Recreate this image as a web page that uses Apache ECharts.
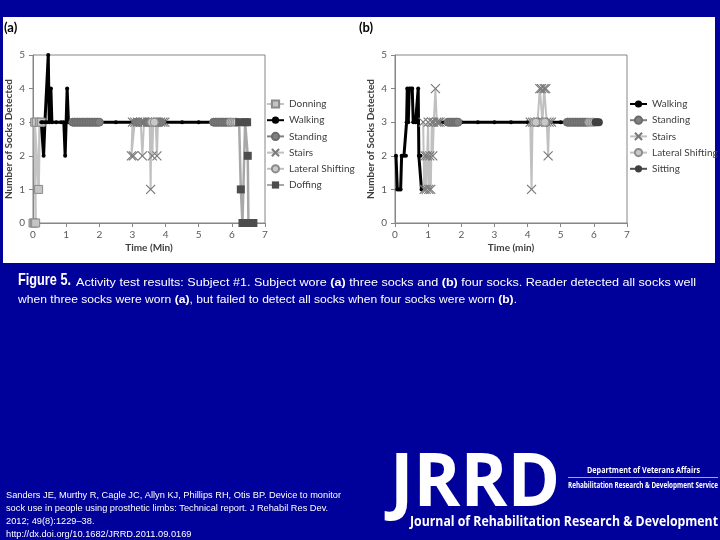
<!DOCTYPE html>
<html><head><meta charset="utf-8">
<script src="https://cdn.jsdelivr.net/npm/echarts@6/dist/echarts.min.js"></script>
<style>html,body{margin:0;padding:0;background:#00009a;}#c{width:720px;height:540px;}</style>
</head><body><div id="c"></div>
<script>
// ---- tick labels ----
const xTicks = [0, 1, 2, 3, 4, 5, 6, 7];
const yTicks = [0, 1, 2, 3, 4, 5];

// ---- panel (a): three socks ----
const legendA = ['Donning', 'Walking', 'Standing', 'Stairs', 'Lateral Shifting', 'Doffing'];
const donningA = [[0,0],[0.04,0],[0.08,0],[0.05,3],[0.1,3],[0.17,1],[0.2,3],[0.25,3]];
const walkingA = [[0.25,3],[0.29,3],[0.32,2],[0.36,3],[0.42,3],[0.46,5],[0.49,3],[0.54,4],[0.57,3],[0.7,3],[0.85,3],[0.93,3],[0.97,2],[1.03,4],[1.07,3],[1.15,3],[1.5,3],[2.0,3],[2.5,3],[3.0,3],[3.5,3],[4.0,3],[4.5,3],[5.0,3],[5.45,3]];
const standingA = [[1.2,3],[1.25,3],[1.3,3],[1.35,3],[1.4,3],[1.45,3],[1.5,3],[1.55,3],[1.6,3],[1.65,3],[1.7,3],[1.75,3],[1.8,3],[1.85,3],[1.9,3],[1.95,3],[2.0,3],[2.0,null],
  [3.12,3],[3.2,3],[3.2,null],[3.42,3],[3.48,3],[3.48,null],[3.8,3],[3.86,3],[3.86,null],
  [5.45,3],[5.5,3],[5.55,3],[5.6,3],[5.65,3],[5.7,3],[5.75,3],[5.8,3],[5.85,3],[5.9,3],[5.95,3]];
const stairsA = [[3.0,3],[2.97,2],[3.03,2],[3.07,3],[3.15,3],[3.25,3],[3.3,2],[3.35,3],[3.45,3],[3.52,3],[3.55,1],[3.57,3],[3.6,2],[3.63,3],[3.7,3],[3.74,2],[3.77,3],[3.85,3],[3.92,3],[3.98,3]];
const lateralA = [[3.58,3],[3.66,3],[3.66,null],[5.95,3],[6.0,3],[6.05,3],[6.1,3],[6.15,3]];
const doffingA = [[6.22,3],[6.27,1],[6.32,0],[6.4,3],[6.46,3],[6.48,2],[6.5,0],[6.58,0],[6.65,0]];

// ---- panel (b): four socks ----
const legendB = ['Walking', 'Standing', 'Stairs', 'Lateral Shifting', 'Sitting'];
const walkingB = [[0.03,2],[0.07,1],[0.12,1],[0.17,1],[0.2,2],[0.27,2],[0.33,2],[0.35,3],[0.37,4],[0.4,3],[0.43,4],[0.48,4],[0.52,4],[0.55,3],[0.62,3],[0.67,3],[0.7,4],[0.72,2],[0.77,2],[0.8,1],[0.8,null],
  [1.38,3],[1.5,3],[2.0,3],[2.5,3],[3.0,3],[3.5,3],[4.0,3],[4.5,3],[5.0,3],[5.2,3]];
const standingB = [[1.6,3],[1.65,3],[1.7,3],[1.75,3],[1.8,3],[1.85,3],[1.9,3],[1.9,null],[4.28,3],[4.33,3],[4.33,null],
  [5.2,3],[5.25,3],[5.3,3],[5.35,3],[5.4,3],[5.45,3],[5.5,3],[5.55,3],[5.6,3],[5.65,3],[5.7,3],[5.75,3],[5.8,3]];
const stairsB = [[0.85,3],[0.88,1],[0.91,2],[0.94,1],[0.97,2],[1.0,3],[1.02,1],[1.05,2],[1.08,1],[1.11,3],[1.14,2],[1.17,3],[1.22,4],[1.26,3],[1.31,3],[1.36,3],[1.36,null],
  [4.08,3],[4.12,1],[4.15,3],[4.22,3],[4.3,3],[4.37,4],[4.42,4],[4.45,3],[4.5,4],[4.55,4],[4.58,3],[4.62,2],[4.65,3],[4.72,3]];
const lateralB = [[4.2,3],[4.25,3],[4.25,null],[4.47,3],[4.52,3],[4.52,null],[5.85,3],[5.9,3],[5.95,3],[6.0,3]];
const sittingB = [[6.05,3],[6.1,3],[6.15,3]];

// ---- texts ----
const panelTitles = ['(a)', '(b)'];
const yName = 'Number of Socks Detected';
const xNames = ['Time (Min)', 'Time (min)'];
const captionHead = 'Figure 5.';
const captionLine1 = [['n','Activity test results: Subject #1. Subject wore '],['b','(a)'],['n',' three socks and '],['b','(b)'],['n',' four socks. Reader detected all socks well']];
const captionLine2 = [['n','when three socks were worn '],['b','(a)'],['n',', but failed to detect all socks when four socks were worn '],['b','(b)'],['n','.']];
const citation = ['Sanders JE, Murthy R, Cagle JC, Allyn KJ, Phillips RH, Otis BP. Device to monitor',
  'sock use in people using prosthetic limbs: Technical report. J Rehabil Res Dev.',
  '2012; 49(8):1229\u201338.',
  'http://dx.doi.org/10.1682/JRRD.2011.09.0169'];

const BLUE = '#00009a';
const mctx = document.createElement('canvas').getContext('2d');
function tw(text, font) { mctx.font = font; return mctx.measureText(text).width; }
const CAP = '"Liberation Sans", Arial, sans-serif';
const capFont = k => (k === 'b' ? 'bold ' : '') + '11px ' + CAP;
function segWidth(segs) { return segs.reduce((s, [k, t]) => s + tw(t, capFont(k)), 0); }
function richStr(segs) { return segs.map(([k, t]) => '{' + k + '|' + t + '}').join(''); }
const capRich = { n: { fontSize: 11, fontFamily: CAP, color: '#fff' }, b: { fontSize: 11, fontFamily: CAP, fontWeight: 'bold', color: '#fff' } };

const UI = 'Lato, "Open Sans", sans-serif';
const axisCommon = {
  axisLine: { show: true, lineStyle: { color: '#868686', width: 1 } },
  axisTick: { show: true, length: 4, lineStyle: { color: '#868686' } },
  splitLine: { show: false },
  axisLabel: { color: '#595959', fontSize: 10, fontFamily: UI }
};
function xAxis(i) {
  return Object.assign({}, axisCommon, {
    type: 'value', gridIndex: i, min: xTicks[0], max: xTicks[xTicks.length - 1], interval: xTicks[1] - xTicks[0],
    name: xNames[i], nameLocation: 'middle', nameGap: 20,
    nameTextStyle: { color: '#404040', fontWeight: 'bold', fontSize: 10, fontFamily: UI },
    axisLabel: Object.assign({}, axisCommon.axisLabel, { margin: 7 })
  });
}
function yAxis(i) {
  return Object.assign({}, axisCommon, {
    type: 'value', gridIndex: i, min: yTicks[0], max: yTicks[yTicks.length - 1], interval: yTicks[1] - yTicks[0],
    name: yName, nameLocation: 'middle', nameGap: 19,
    nameTextStyle: { color: '#404040', fontWeight: 'bold', fontSize: 10, fontFamily: UI },
    axisLabel: Object.assign({}, axisCommon.axisLabel, { margin: 8 })
  });
}
const X = 'path://M0,0L10,10M10,0L0,10';
const styles = {
  'Donning': { symbol: 'rect', symbolSize: 8, itemStyle: { color: '#c4c4c4', borderColor: '#8a8a8a', borderWidth: 1 }, lineStyle: { color: '#c4c4c4', width: 2.5 } },
  'Walking': { symbol: 'circle', symbolSize: 4, itemStyle: { color: '#000' }, lineStyle: { color: '#000', width: 3 } },
  'Standing': { symbol: 'circle', symbolSize: 8, itemStyle: { color: '#808080', borderColor: '#6a6a6a', borderWidth: 1 }, lineStyle: { color: '#808080', width: 2.5 } },
  'Stairs': { symbol: X, symbolSize: 9, itemStyle: { color: 'transparent', borderColor: '#7a7a7a', borderWidth: 1.2 }, lineStyle: { color: '#c0c0c0', width: 2 } },
  'Lateral Shifting': { symbol: 'circle', symbolSize: 8, itemStyle: { color: '#c8c8c8', borderColor: '#8c8c8c', borderWidth: 1 }, lineStyle: { color: '#c0c0c0', width: 2 } },
  'Doffing': { symbol: 'rect', symbolSize: 8, itemStyle: { color: '#4d4d4d' }, lineStyle: { color: '#a8a8a8', width: 2.5 } },
  'Sitting': { symbol: 'circle', symbolSize: 8, itemStyle: { color: '#404040' }, lineStyle: { color: '#505050', width: 2 } }
};
function ser(name, data, gi) {
  return Object.assign({ type: 'line', name: name, data: data, xAxisIndex: gi, yAxisIndex: gi, showSymbol: true, connectNulls: false, animation: false, emphasis: { disabled: true } }, styles[name]);
}
const series = [
  ser('Donning', donningA, 0), ser('Walking', walkingA, 0), ser('Standing', standingA, 0), ser('Stairs', stairsA, 0), ser('Lateral Shifting', lateralA, 0), ser('Doffing', doffingA, 0),
  ser('Walking', walkingB, 1), ser('Standing', standingB, 1), ser('Stairs', stairsB, 1), ser('Lateral Shifting', lateralB, 1), ser('Sitting', sittingB, 1)
];
function legend(data, left) {
  return { data: data, orient: 'vertical', left: left, top: 94, padding: 5, itemWidth: 17, itemHeight: 9, itemGap: 6.2, selectedMode: false,
    textStyle: { color: '#404040', fontSize: 10, fontFamily: UI } };
}
const LOGO = '"Open Sans", sans-serif';
function fitText(text, font, target) { return target / tw(text, font); }
const headFont = 'bold 17px ' + CAP;
const citeFont = '9px ' + CAP;
const jFont = 'bold 74px ' + LOGO;
const d1Font = 'bold 8.5px ' + LOGO, d2Font = 'bold 8px ' + LOGO, jnFont = 'bold 14.5px ' + LOGO;
const graphic = [
  { type: 'rect', shape: { x: 3, y: 17, width: 712, height: 246 }, style: { fill: '#ffffff' }, z: -10, silent: true },
  { type: 'text', x: 4, y: 28, style: { text: panelTitles[0], font: 'bold 13px ' + UI, fill: '#000', verticalAlign: 'middle' } },
  { type: 'text', x: 359, y: 28, style: { text: panelTitles[1], font: 'bold 13px ' + UI, fill: '#000', verticalAlign: 'middle' } },
  { type: 'text', x: 18, y: 289, scaleX: fitText(captionHead, headFont, 53), style: { text: captionHead, font: headFont, fill: '#fff', verticalAlign: 'bottom' } },
  { type: 'text', x: 76, y: 288, scaleX: 620 / segWidth(captionLine1), style: { text: richStr(captionLine1), rich: capRich, font: '11px ' + CAP, fill: '#fff', verticalAlign: 'bottom' } },
  { type: 'text', x: 18, y: 305, scaleX: 499 / segWidth(captionLine2), style: { text: richStr(captionLine2), rich: capRich, font: '11px ' + CAP, fill: '#fff', verticalAlign: 'bottom' } },
  { type: 'text', x: 6, y: 489, scaleX: fitText(citation[0], citeFont, 335), style: { text: citation.join('\n'), font: citeFont, lineHeight: 13, fill: '#fff', verticalAlign: 'top' } },
  { type: 'text', x: 390, y: 485, scaleX: fitText('JRRD', jFont, 170), style: { text: 'JRRD', font: jFont, fill: '#fff', verticalAlign: 'middle' } },
  { type: 'text', x: 587, y: 471, scaleX: fitText('Department of Veterans Affairs', d1Font, 113), style: { text: 'Department of Veterans Affairs', font: d1Font, fill: '#fff', verticalAlign: 'middle' } },
  { type: 'rect', shape: { x: 568, y: 477, width: 150, height: 1 }, style: { fill: '#aab' } },
  { type: 'text', x: 568, y: 486, scaleX: fitText('Rehabilitation Research & Development Service', d2Font, 150), style: { text: 'Rehabilitation Research & Development Service', font: d2Font, fill: '#fff', verticalAlign: 'middle' } },
  { type: 'text', x: 410, y: 522, scaleX: fitText('Journal of Rehabilitation Research & Development', jnFont, 308), style: { text: 'Journal of Rehabilitation Research & Development', font: jnFont, fill: '#fff', verticalAlign: 'middle' } }
];
const chart = echarts.init(document.getElementById('c'), null, { renderer: 'canvas' });
chart.setOption({
  backgroundColor: BLUE,
  animation: false,
  grid: [
    { left: 33, top: 55, width: 232, height: 168, show: true, borderColor: '#868686', borderWidth: 1, backgroundColor: 'transparent' },
    { left: 395, top: 55, width: 232, height: 168, show: true, borderColor: '#868686', borderWidth: 1, backgroundColor: 'transparent' }
  ],
  xAxis: [xAxis(0), xAxis(1)],
  yAxis: [yAxis(0), yAxis(1)],
  legend: [legend(legendA, 261), legend(legendB, 624)],
  series: series,
  graphic: graphic
});
</script></body></html>
